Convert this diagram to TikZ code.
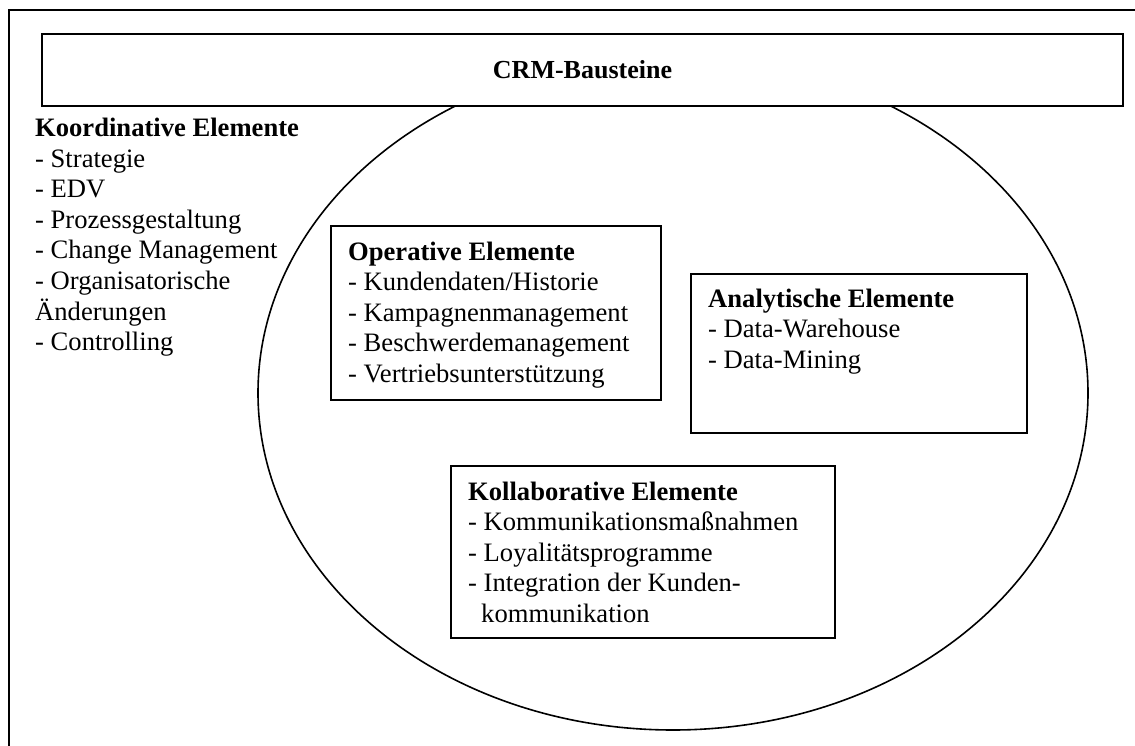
\documentclass[tikz,border=0pt]{standalone}
\usepackage{fontspec}
\setmainfont{Liberation Serif}
\usetikzlibrary{shapes.geometric}
\begin{document}
\begin{tikzpicture}[x=1pt,y=-1pt,
  frame/.style={draw,line width=2.2pt},
  elbox/.style={draw,line width=2pt,fill=white,inner sep=0pt},
  txt/.style={inner sep=0pt,anchor=base west,font=\fontsize{26.6}{30.5}\selectfont},
  oval/.style={draw,ellipse,line width=1.6pt,inner sep=0pt}]
\useasboundingbox (0,0) rectangle (1135,746);
\coordinate (fbl) at (9,746);
\coordinate (ftl) at (9,10);
\coordinate (ftr) at (1135,10);
\draw[frame] (fbl) -- (ftl) -- (ftr);
\node[oval,minimum width=830,minimum height=674] (crm) at (673,393) {};
\node[elbox,minimum width=1081,minimum height=72] (head) at (582.5,70) {};
\node[inner sep=0pt,font=\fontsize{26}{30.5}\selectfont\bfseries] (headtxt) at (head.center) {CRM-Bausteine};
\node[txt] (koord) at (35,137) {\begin{tabular}[t]{@{}l@{}}\textbf{Koordinative Elemente}\\
- Strategie\\
- EDV\\
- Prozessgestaltung\\
- Change Management\\
- Organisatorische\\
Änderungen\\
- Controlling\end{tabular}};
\node[elbox,minimum width=330,minimum height=174] (op) at (496,313) {};
\node[txt] (optxt) at (348,260) {\begin{tabular}[t]{@{}l@{}}\textbf{Operative Elemente}\\
- Kundendaten/Historie\\
- Kampagnenmanagement\\
- Beschwerdemanagement\\
- Vertriebsunterstützung\end{tabular}};
\node[elbox,minimum width=336,minimum height=159] (an) at (859,353.5) {};
\node[txt] (antxt) at (708,307) {\begin{tabular}[t]{@{}l@{}}\textbf{Analytische Elemente}\\
- Data-Warehouse\\
- Data-Mining\end{tabular}};
\node[elbox,minimum width=384,minimum height=172] (kol) at (643,552) {};
\node[txt] (koltxt) at (468,500) {\begin{tabular}[t]{@{}l@{}}\textbf{Kollaborative Elemente}\\
- Kommunikationsmaßnahmen\\
- Loyalitätsprogramme\\
- Integration der Kunden-\\
\hspace*{13pt}kommunikation\end{tabular}};
\end{tikzpicture}
\end{document}
